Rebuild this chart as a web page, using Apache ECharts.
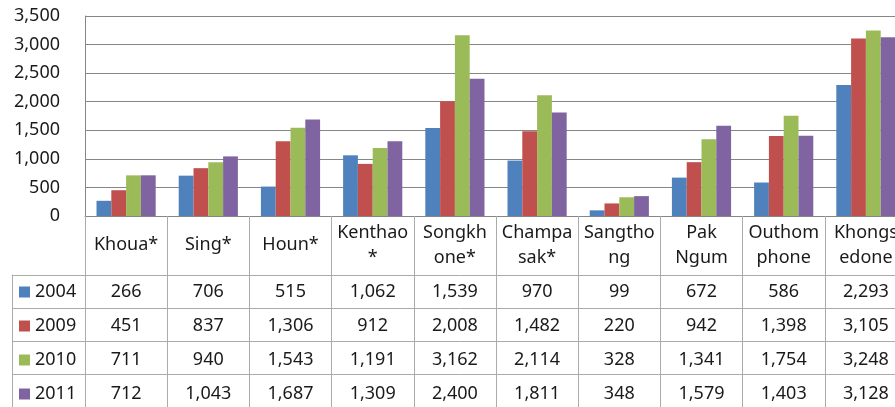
<!DOCTYPE html>
<html>
<head>
<meta charset="utf-8">
<script src="https://cdn.jsdelivr.net/npm/echarts@6/dist/echarts.min.js"></script>
<style>
  html, body { margin: 0; padding: 0; background: #ffffff; overflow: hidden; }
  /* the table runs a little past the right edge of the window */
  #chart { width: 912px; height: 407px; }
</style>
</head>
<body>
<div id="chart"></div>
<script>
// District names (line breaks as shown in the table header)
const districts = ['Khoua*', 'Sing*', 'Houn*', 'Kenthao\n*', 'Songkh\none*', 'Champa\nsak*', 'Sangtho\nng', 'Pak\nNgum', 'Outhom\nphone', 'Khongs\nedone'];
const years = ['2004', '2009', '2010', '2011'];

// Values per year
const v2004 = [266, 706, 515, 1062, 1539, 970, 99, 672, 586, 2293];
const v2009 = [451, 837, 1306, 912, 2008, 1482, 220, 942, 1398, 3105];
const v2010 = [711, 940, 1543, 1191, 3162, 2114, 328, 1341, 1754, 3248];
const v2011 = [712, 1043, 1687, 1309, 2400, 1811, 348, 1579, 1403, 3128];

// Value axis ticks
const yMin = 0;
const yMax = 3500;
const yStep = 500;

const colors = ['#4F81BD', '#C0504D', '#9BBB59', '#8064A2'];
const rows = [v2004, v2009, v2010, v2011];

const fmt = n => n.toLocaleString('en-US');
const TEXT = '#1a1a1a';
const GRID = '#868686';
const TABLE = '#ABABAB';
const FS = 18;

// Rows of the data table are drawn as extra category axes under the plot
const rowAxes = rows.map((vals, i) => ({
  gridIndex: 0,
  type: 'category',
  data: districts,
  position: 'bottom',
  offset: 59 + 34 * i,
  axisLine: { show: false },
  axisTick: { show: false },
  axisLabel: {
    interval: 0,
    margin: 17,
    verticalAlign: 'middle',
    fontSize: FS,
    color: TEXT,
    formatter: (v, idx) => fmt(vals[idx])
  }
}));

const chart = echarts.init(document.getElementById('chart'), null, { renderer: 'canvas' });
chart.setOption({
  animation: false,
  textStyle: { fontFamily: 'Noto Sans' },
  grid: [
    { left: 85, top: 16, width: 822, height: 200, containLabel: false },
    { left: 12, top: 275, width: 895, height: 136, containLabel: false }
  ],
  legend: {
    orient: 'vertical',
    left: 19,
    top: 282,
    height: 140,
    padding: 0,
    itemWidth: 11,
    itemHeight: 11,
    itemGap: 14,
    icon: 'rect',
    data: years,
    textStyle: { fontSize: FS, lineHeight: 20, color: TEXT }
  },
  xAxis: [
    {
      gridIndex: 0,
      type: 'category',
      data: districts,
      axisLine: { show: true, lineStyle: { color: GRID, width: 1 } },
      axisTick: { show: true, interval: 0, length: 195, lineStyle: { color: TABLE } },
      axisLabel: {
        interval: 0,
        margin: 29,
        verticalAlign: 'middle',
        lineHeight: 25,
        fontSize: FS,
        color: TEXT
      }
    },
    ...rowAxes,
    { gridIndex: 1, type: 'value', show: false, min: 0, max: 1 }
  ],
  yAxis: [
    {
      gridIndex: 0,
      type: 'value',
      min: yMin,
      max: yMax,
      interval: yStep,
      axisLine: { show: true, lineStyle: { color: GRID } },
      axisTick: { show: false },
      splitLine: { show: true, lineStyle: { color: GRID, width: 1 } },
      axisLabel: { margin: 25, fontSize: FS, color: TEXT, formatter: v => fmt(v) }
    },
    {
      gridIndex: 1,
      type: 'category',
      data: years,
      inverse: true,
      axisLine: { show: true, lineStyle: { color: TABLE } },
      axisTick: { show: false },
      axisLabel: { show: false },
      splitLine: { show: true, interval: 0, lineStyle: { color: TABLE } }
    }
  ],
  series: years.map((y, i) => ({
    name: y,
    type: 'bar',
    xAxisIndex: 0,
    yAxisIndex: 0,
    data: rows[i],
    barGap: '0%',
    barCategoryGap: '28%',
    itemStyle: { color: colors[i] }
  }))
});
</script>
</body>
</html>
